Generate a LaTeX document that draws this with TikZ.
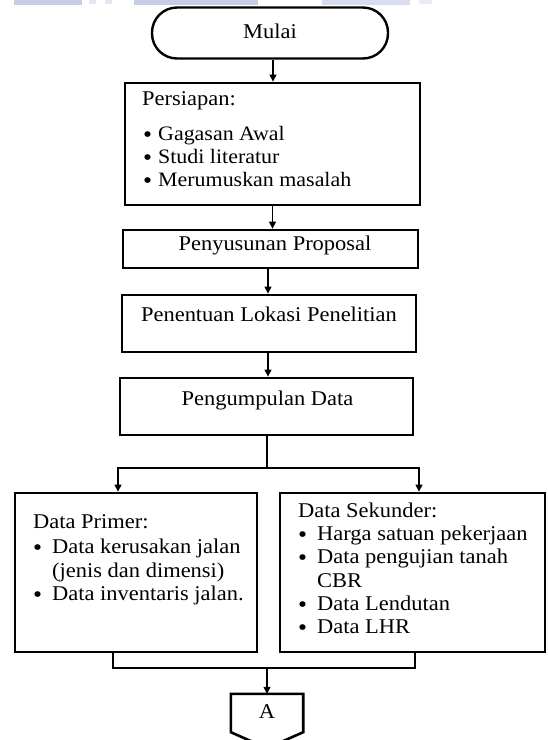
\documentclass[tikz,border=0pt]{standalone}
\usepackage{fontspec}
\setmainfont[FakeStretch=1.07]{Liberation Serif}
\usetikzlibrary{arrows.meta,calc}
\newcommand{\bitem}[2]{\makebox[#1][l]{\smash{\raisebox{-2pt}{\fontsize{24}{24}\selectfont\textbullet}}}#2}
\definecolor{lav}{RGB}{200,205,230}
\begin{document}
\begin{tikzpicture}[x=1pt,y=-1pt,
  box/.style={draw, line width=2.8pt, inner sep=0pt},
  lbl/.style={inner sep=0pt, text height=13pt, text depth=3pt, font=\fontsize{21}{25}\selectfont},
  con/.style={line width=1.2pt},
  arr/.style={con, -{Triangle[length=7pt,width=7pt]}}]
\useasboundingbox (0,0) rectangle (547,740);
\fill[white] (0,0) rectangle (547,740);
% faint band at the top
\fill[lav] (14,0) rectangle (82,5);
\fill[lav!50] (89,0) rectangle (96,4);
\fill[lav!50] (105,0) rectangle (112,4);
\fill[lav] (134,0) rectangle (258,5);
\fill[lav!70] (322,0) rectangle (410,5);
\fill[lav!40] (419,0) rectangle (432,4);

% terminator
\node[box, line width=2.4pt, rounded corners=25pt, minimum width=236pt, minimum height=51pt, lbl] (mulai) at (270,33) {Mulai};

% boxes
\node[box, minimum width=295pt, minimum height=122pt] (persiapan) at (272.5,144) {};
\node[box, minimum width=295pt, minimum height=38pt] (penyusunan) at (270.5,249) {};
\node[box, minimum width=294pt, minimum height=57pt] (penentuan) at (269,323.5) {};
\node[box, minimum width=293pt, minimum height=57pt] (pengumpulan) at (266.5,406.5) {};
\node[box, minimum width=242pt, minimum height=159pt] (primer) at (136,572.5) {};
\node[box, minimum width=265pt, minimum height=159pt] (sekunder) at (412.5,572.5) {};
\node[minimum width=72pt, minimum height=38pt, inner sep=0pt, lbl] (A) at (267,713) {A};
\draw[line width=2.6pt, line join=miter] (A.north west) -- (A.north east) -- (A.south east) -- ($(A.south)+(0,16)$) -- (A.south west) -- cycle;

% texts
\node[lbl, anchor=west] (t1) at (142,100) {Persiapan:};
\node[inner sep=0pt, anchor=north west, align=left, font=\fontsize{20.5}{23}\selectfont] (t2) at (143,126)
  {\bitem{15pt}{Gagasan Awal}\\\bitem{15pt}{Studi literatur}\\\bitem{15pt}{Merumuskan masalah}};
\node[lbl] (t5) at (275,245) {Penyusunan Proposal};
\node[lbl] (t6) at (269,316) {Penentuan Lokasi Penelitian};
\node[lbl] (t7) at (267.5,400) {Pengumpulan Data};

\node[lbl, anchor=west] (p1) at (33,523) {Data Primer:};
\node[lbl, anchor=west] (p2) at (33,548) {\bitem{19pt}{Data kerusakan jalan}};
\node[lbl, anchor=west] (p3) at (52,572) {(jenis dan dimensi)};
\node[lbl, anchor=west] (p4) at (33,595) {\bitem{19pt}{Data inventaris jalan.}};

\node[lbl, anchor=west] (s1) at (298,512) {Data Sekunder:};
\node[lbl, anchor=west] (s2) at (298,535) {\bitem{19pt}{Harga satuan pekerjaan}};
\node[lbl, anchor=west] (s3) at (298,558) {\bitem{19pt}{Data pengujian tanah}};
\node[lbl, anchor=west] (s4) at (317,582) {CBR};
\node[lbl, anchor=west] (s5) at (298,605) {\bitem{19pt}{Data Lendutan}};
\node[lbl, anchor=west] (s6) at (298,628) {\bitem{19pt}{Data LHR}};

% connectors
\coordinate (split) at (267,468);
\coordinate (merge) at (267,668);
\draw[arr] ([xshift=3pt]mulai.south) -- ([xshift=0.5pt]persiapan.north);
\draw[arr] (persiapan.south) -- ([xshift=2pt]penyusunan.north);
\draw[arr] ([xshift=-2.5pt]penyusunan.south) -- ([xshift=-1pt]penentuan.north);
\draw[arr] ([xshift=-1pt]penentuan.south) -- ([xshift=1.5pt]pengumpulan.north);
\draw[con] ([xshift=0.5pt]pengumpulan.south) -- (split);
\draw[arr] (split) -| ([xshift=-18pt]primer.north);
\draw[arr] (split) -| ([xshift=6.5pt]sekunder.north);
\draw[con] ([xshift=-23pt]primer.south) |- (merge);
\draw[con] ([xshift=2.5pt]sekunder.south) |- (merge);
\draw[arr] (merge) -- (A.north);
\end{tikzpicture}
\end{document}
